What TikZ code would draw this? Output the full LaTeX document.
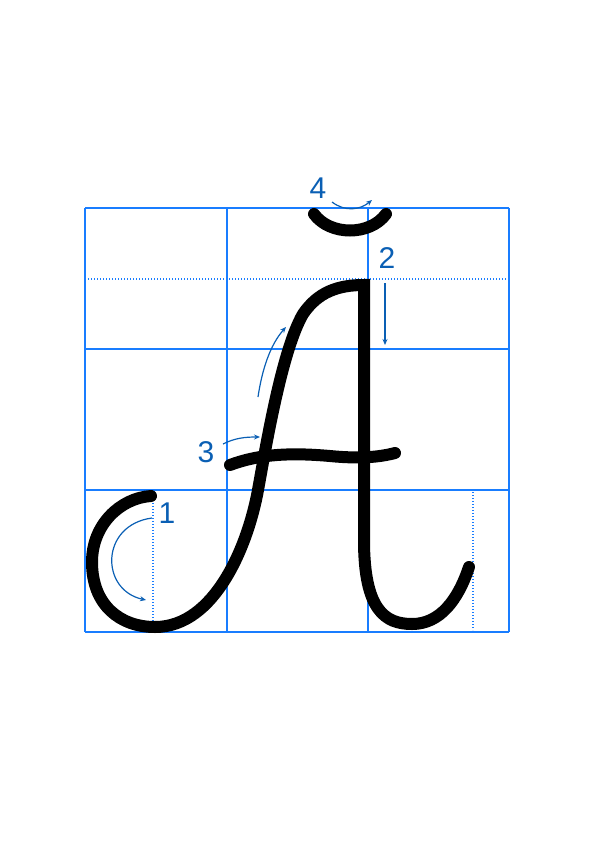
\documentclass[tikz,border=0pt]{standalone}
\usepackage{fontspec}
\setmainfont{Liberation Sans}
\usetikzlibrary{arrows.meta}
\definecolor{gridblue}{RGB}{25,125,255}
\definecolor{hintblue}{RGB}{10,95,180}

\begin{document}
\begin{tikzpicture}[
  x=1pt, y=-1pt,
  >={Stealth[length=6pt,width=5pt]},
  cell/.style={draw=gridblue, line width=2.4pt},
  guide/.style={draw=gridblue, line width=1.4pt, dash pattern=on 1.3pt off 1.7pt},
  stroke/.style={line width=12pt, line cap=round, line join=miter},
  hint/.style={draw=hintblue, line width=1.2pt, ->},
  num/.style={text=hintblue, font=\fontsize{30}{30}\selectfont, inner sep=0pt},
]
  \useasboundingbox (0,0) rectangle (595,842);
  % guide lines
  \draw[guide] (85,279) -- (509,279);
  \draw[guide] (153,500) -- (153,622);
  \draw[guide] (473,492) -- (473,630);
  % grid
  \foreach \x in {85,227,368,509}
    \draw[cell] (\x,208) -- (\x,632);
  \foreach \y in {208,349,490,632}
    \draw[cell] (85,\y) -- (509,\y);
  % letter strokes
  \draw[stroke] (151,496) .. controls (120,498) and (92,525) .. (92,562)
    .. controls (92,605) and (120,627) .. (155,627)
    .. controls (215,627) and (248,545) .. (258,490)
    .. controls (266,446) and (282,350) .. (303,314)
    .. controls (318,292) and (338,285) .. (364,285)
    -- (364,540)
    .. controls (364,610) and (385,624) .. (412,624)
    .. controls (440,624) and (458,600) .. (469,567);
  \draw[stroke] (230,465) .. controls (262,453) and (295,453) .. (330,456)
    .. controls (360,459) and (380,457) .. (395,453);
  \draw[stroke] (314,214) .. controls (330,236) and (370,236) .. (386,214);
  % numbers
  \node[num] (n1) at (167,513) {1};
  \node[num] (n2) at (387,258) {2};
  \node[num] (n3) at (206,452) {3};
  \node[num] (n4) at (318,188) {4};
  % direction arrows
  \draw[hint] (152,518) .. controls (100,525) and (100,590) .. (146,600);
  \draw[hint] (385,283) -- (385,345);
  \draw[hint] (223,444) .. controls (235,438) and (245,437) .. (260,437);
  \draw[hint] (258,397) .. controls (262,370) and (270,345) .. (286,327);
  \draw[hint] (332,202) .. controls (345,212) and (360,210) .. (372,200);
\end{tikzpicture}
\end{document}
